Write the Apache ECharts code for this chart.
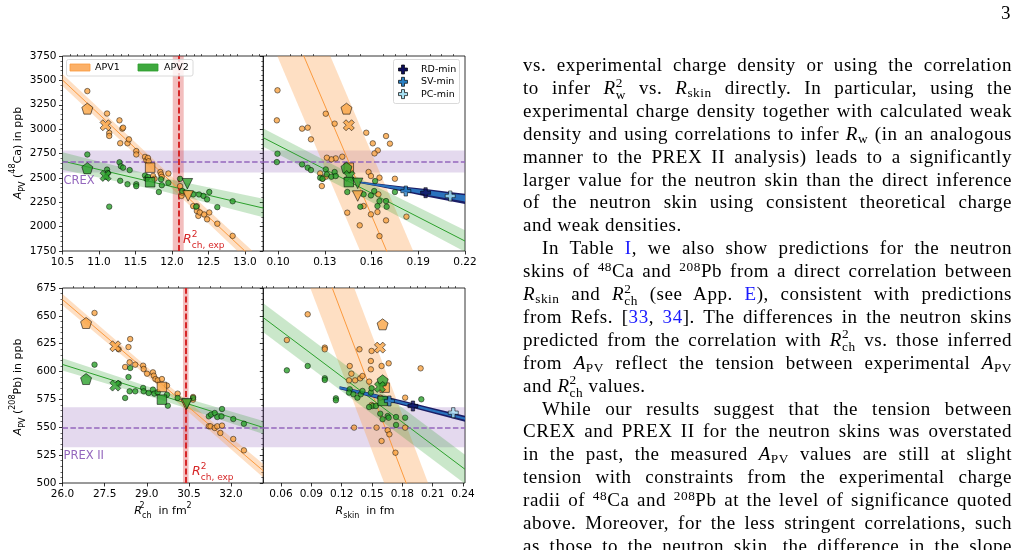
<!DOCTYPE html>
<html>
<head>
<meta charset="utf-8">
<script src="https://cdn.jsdelivr.net/npm/echarts/dist/echarts.min.js"></script>
<style>
body { margin: 0; background: #fff; overflow: hidden; }
#chart { position: absolute; left: 0; top: 0; width: 1019px; height: 550px; }
.l { position: absolute; left: 523px; width: 489px; height: 23px; line-height: 23px;
     font-family: 'Liberation Serif', serif; font-size: 19px; letter-spacing: 0.55px; color: #000;
     text-align: justify; text-align-last: justify; white-space: nowrap; }
.l.e { text-align-last: left; }
.l.ind { text-indent: 19px; }
.l a { color: #1a1aff; text-decoration: none; }
.l sub, .l sup { font-size: 0.7em; line-height: 0; }
.l sub { vertical-align: -0.25em; }
.l sup { vertical-align: 0.45em; }
.ss { display: inline-block; font-size: 0.7em; line-height: 0.95; vertical-align: -0.4em; }
.ss b { display: block; font-weight: normal; }
#page { position: absolute; left: 1001px; top: 2px; font-family: 'Liberation Serif', serif; font-size: 19px; }
</style>
</head>
<body>
<div id="chart"></div>
<div id="page">3</div>
<div id="text"></div>
<script>
// ---------- data ----------
// axes
const caRchRange = [10.5, 13.25];
const caSkinRange = [0.0905, 0.22];
const pbRchRange = [26.0, 33.15];
const pbSkinRange = [0.0425, 0.242];
const caRchTicks = [10.5, 11.0, 11.5, 12.0, 12.5, 13.0];
const caSkinTicks = [0.10, 0.13, 0.16, 0.19, 0.22];
const pbRchTicks = [26.0, 27.5, 29.0, 30.5, 32.0];
const pbSkinTicks = [0.06, 0.09, 0.12, 0.15, 0.18, 0.21, 0.24];
const caApvAxis = [1750, 3750, 250];
const pbApvAxis = [500, 675, 25];

// experiment
const crexBand = [2555, 2781];
const crexValue = 2668;
const prexBand = [532, 568];
const prexValue = 550;
const caRch2Band = [12.01, 12.16];
const caRch2Exp = 12.085;
const pbRch2Band = [30.29, 30.49];
const pbRch2Exp = 30.39;

// 48Ca vs R_ch^2
const caRchApv1 = [[10.84,3390],[11.11,3160],[11.14,2960],[11.14,2930],[11.28,3090],[11.32,3005],[11.33,3015],[11.29,2855],[11.39,2855],[11.41,2895],[11.51,2775],[11.51,2740],[11.63,2715],[11.65,2680],[11.67,2705],[11.68,2670],[11.84,2560],[11.85,2535],[11.95,2545],[11.74,2520],[11.76,2490],[11.86,2510],[12.11,2415],[12.13,2315],[12.14,2350],[12.29,2210],[12.34,2210],[12.34,2160],[12.36,2110],[12.38,2145],[12.44,2125],[12.48,2075],[12.51,2145],[12.62,2030],[12.83,1905]];
const caRchApv2 = [[10.84,2740],[11.11,2585],[11.12,2550],[11.10,2510],[11.14,2205],[11.28,2660],[11.30,2620],[11.33,2605],[11.29,2470],[11.39,2435],[11.42,2580],[11.51,2435],[11.51,2415],[11.63,2525],[11.65,2490],[11.67,2510],[11.85,2485],[11.86,2425],[11.82,2355],[11.95,2450],[12.11,2490],[12.14,2365],[12.29,2330],[12.33,2205],[12.37,2330],[12.43,2315],[12.48,2280],[12.51,2355],[12.62,2200],[12.83,2260]];
const caRchMarkers1 = [[10.84,3210],[11.09,3040],[11.70,2605],[12.22,2315]];
const caRchMarkers2 = [[10.84,2600],[11.09,2520],[11.70,2455],[12.21,2440]];
const caRchLine1 = [[10.5,3504],[13.25,1573]];
const caRchBand1 = [[10.5,3442,3566],[11.9,2461,2581],[13.25,1498,1648]];
const caRchLine2 = [[10.5,2673],[13.25,2190]];
const caRchBand2 = [[10.5,2583,2763],[11.9,2357,2497],[13.25,2095,2285]];

// 48Ca vs R_skin
const caSkinApv1 = [[0.0996,3398],[0.0992,3090],[0.1154,3005],[0.119,3015],[0.1211,2895],[0.1306,3158],[0.1363,3056],[0.1566,2963],[0.1608,2854],[0.164,2782],[0.1619,2751],[0.1693,2929],[0.1718,2851],[0.1412,2717],[0.137,2700],[0.1342,2690],[0.1313,2707],[0.1581,2560],[0.1596,2519],[0.1651,2502],[0.127,2546],[0.1285,2491],[0.1281,2416],[0.1306,2512],[0.175,2491],[0.1444,2143],[0.1524,2013],[0.1549,2211],[0.1596,2126],[0.1638,2150],[0.1693,2064],[0.1651,1903],[0.1824,2102],[0.1644,2331]];
const caSkinApv2 = [[0.0996,2748],[0.0992,2662],[0.1154,2638],[0.119,2604],[0.1211,2580],[0.127,2502],[0.1285,2491],[0.1306,2587],[0.1313,2536],[0.1342,2512],[0.1363,2560],[0.137,2519],[0.1444,2355],[0.1549,2331],[0.1528,2204],[0.1596,2320],[0.1617,2365],[0.1623,2467],[0.1638,2211],[0.1651,2262],[0.1693,2262],[0.1697,2204],[0.175,2355]];
const caSkinMarkers1 = [[0.1439,3210],[0.1454,3040],[0.1454,2604],[0.1511,2314]];
const caSkinMarkers2 = [[0.1439,2604],[0.1458,2519],[0.1454,2457],[0.1511,2444]];
const caSkinLine1 = [[0.095,4558],[0.2,611]];
const caSkinBand1 = [[0.095,3918,5198],[0.2,-29,1251]];
const caSkinLine2 = [[0.0905,2912],[0.22,1852]];
const caSkinBand2 = [[0.0905,2818,3006],[0.155,2294,2474],[0.22,1742,1962]];
const caSkinMinOuter = [[0.152,2448,2462],[0.165,2408,2440],[0.18,2360,2412],[0.195,2310,2385],[0.21,2262,2355],[0.22,2232,2338]];
const caSkinMinInner = [[0.152,2451,2459],[0.165,2415,2434],[0.18,2372,2402],[0.195,2328,2372],[0.21,2285,2340],[0.22,2258,2322]];
const caSkinMinPoints = [[0.1947,2348],[0.182,2365],[0.2105,2314]]; // RD, SV, PC

// 208Pb vs R_ch^2
const pbRchApv1 = [[27.14,652.6],[28.0,620],[28.35,622],[28.41,629.2],[28.39,608.3],[28.23,604.1],[28.59,606.2],[28.87,605.3],[28.89,602.3],[29.01,598.1],[29.22,599.3],[29.25,596.3],[29.31,593.3],[29.39,592.1],[29.54,593.3],[29.72,587.4],[30.10,580.2],[30.65,577.2],[30.65,574.8],[31.21,550.9],[31.27,550.9],[31.42,549.4],[31.51,550.9],[31.68,551.5],[31.62,544.9],[32.08,539.5],[32.46,529.3]];
const pbRchApv2 = [[27.14,606.2],[28.0,589.2],[28.23,576.3],[28.35,595.1],[28.41,603.2],[28.39,582.3],[28.59,582.3],[28.87,585.3],[28.89,582.3],[29.07,580.8],[29.22,583.8],[29.27,580.2],[29.39,581.4],[29.72,579.3],[29.75,569.4],[30.10,576.3],[30.65,576.3],[31.21,559.8],[31.29,561.3],[31.42,562.8],[31.51,559.2],[31.68,566.4],[31.66,559.8],[32.08,557.4],[32.46,553.2]];
const pbRchMarkers1 = [[26.84,643.6],[27.88,622.7],[29.54,586.2],[30.40,570.5]];
const pbRchMarkers2 = [[26.84,593.3],[27.88,587.4],[29.54,574.8],[30.43,571.2]];
const pbRchLine1 = [[26,664.6],[33.15,510.9]];
const pbRchBand1 = [[26,659.6,669.6],[29.5,585.4,593.4],[33.15,505,517]];
const pbRchLine2 = [[26,606.4],[33.15,549.8]];
const pbRchBand2 = [[26,600.9,611.9],[29.5,574.7,582.7],[33.15,544,555.6]];

// 208Pb vs R_skin
const pbSkinApv1 = [[0.0864,651.4],[0.0658,628.3],[0.1033,621.5],[0.1033,620],[0.1376,620],[0.1496,618.5],[0.1665,607.4],[0.1595,605],[0.1489,609.5],[0.1489,602],[0.128,605],[0.1296,598.1],[0.1273,592.1],[0.1333,592.1],[0.1383,593.9],[0.1406,596],[0.1472,591],[0.1981,602.9],[0.1582,576.6],[0.1496,570],[0.1828,576.6],[0.1323,549.7],[0.1545,549.7],[0.1655,547.3],[0.1672,543.7],[0.1828,549.7],[0.1595,537.7],[0.1732,527.2]];
const pbSkinApv2 = [[0.0658,601.1],[0.0864,605],[0.1033,594],[0.1033,592.5],[0.1143,576],[0.1143,574.2],[0.128,584.1],[0.1273,581.1],[0.1316,579.6],[0.1356,576.6],[0.1389,579.6],[0.1406,582.6],[0.1489,581.1],[0.1496,585],[0.1506,569.1],[0.1539,569.1],[0.1582,562.2],[0.1605,557.2],[0.1655,560.1],[0.1665,558.6],[0.1738,559.2],[0.1738,552.1],[0.1828,558.6],[0.1988,575.1],[0.1472,568.2]];
const pbSkinMarkers1 = [[0.1605,642.4],[0.1579,621.5],[0.1625,585.6],null];
const pbSkinMarkers2 = [[0.1605,592.1],[0.1579,586.2],[0.1605,573.6],null];
const pbSkinLine1 = [[0.08,748.5],[0.22,413.3]];
const pbSkinBand1 = [[0.08,696.5,800.5],[0.22,361.3,465.3]];
const pbSkinLine2 = [[0.0425,648.4],[0.242,512.3]];
const pbSkinBand2 = [[0.0425,635.4,661.4],[0.242,499.3,525.3]];
const pbSkinMinOuter = [[0.118,584.2,586.8],[0.15,577,580.6],[0.18,569.8,574],[0.21,562.5,567.3],[0.242,555,560.3]];
const pbSkinMinInner = [[0.118,584.6,586.4],[0.15,577.6,580],[0.18,570.8,573],[0.21,564,566],[0.242,556.8,558.8]];
const pbSkinMinPoints = [[0.1905,569.1],[0.1672,573.6],[0.2304,563.1]]; // RD, SV, PC

const minNames = ['RD-min', 'SV-min', 'PC-min'];

// ---------- styles ----------
const FONT = 'DejaVu Sans';
const C = {
    orange: '#f9a443', orangeLine: '#fb9a3e', orangeBand: 'rgba(252,164,84,0.35)',
    green: '#2ca02c', greenBand: 'rgba(44,160,44,0.25)',
    purple: '#9467bd', purpleBand: 'rgba(148,103,189,0.25)',
    red: '#d62728', redBand: 'rgba(214,39,40,0.3)',
    navy: '#1b1e66', blue: '#2a72bd'
};
const minColors = ['#0e0e5c', '#2a80c4', '#a8e0f2'];
const PENTAGON = 'path://M0,-1L0.951,-0.309L0.588,0.809L-0.588,0.809L-0.951,-0.309Z';
const XMARK = 'path://M1.414,-2.828L2.828,-1.414L1.414,0L2.828,1.414L1.414,2.828L0,1.414L-1.414,2.828L-2.828,1.414L-1.414,0L-2.828,-1.414L-1.414,-2.828L0,-1.414Z';
const PLUS = 'path://M-1,-3L1,-3L1,-1L3,-1L3,1L1,1L1,3L-1,3L-1,1L-3,1L-3,-1L-1,-1Z';
const markerShapes = [
    { symbol: PENTAGON, size: 11, rotate: 0 },
    { symbol: XMARK, size: 11, rotate: 0 },
    { symbol: 'rect', size: 9.5, rotate: 0 },
    { symbol: 'triangle', size: 10.5, rotate: 180 }
];

const grids = [
    { left: 62.5, top: 56, width: 200.8, height: 195 },
    { left: 263.3, top: 56, width: 201.7, height: 195 },
    { left: 62.5, top: 288, width: 200.8, height: 195 },
    { left: 263.3, top: 288, width: 201.7, height: 195 }
].map(g => Object.assign(g, { show: true, borderColor: '#000', borderWidth: 0.8, backgroundColor: 'transparent' }));

function minorTicks(major, ndiv, lo, hi) {
    const step = (major[1] - major[0]) / ndiv;
    const out = [];
    let v = major[0];
    while (v - step >= lo - 1e-9) v -= step;
    for (; v <= hi + 1e-9; v += step) {
        if (!major.some(m => Math.abs(m - v) < step / 10)) out.push(+v.toFixed(6));
    }
    return out;
}

const panels = [
    { range: caRchRange, ticks: caRchTicks, ndiv: 5, digits: 1, y: caApvAxis, yLabels: true,
      pts1: caRchApv1, pts2: caRchApv2, mk1: caRchMarkers1, mk2: caRchMarkers2,
      line1: caRchLine1, band1: caRchBand1, line2: caRchLine2, band2: caRchBand2,
      exp: crexBand, expVal: crexValue, rch: caRch2Band, rchVal: caRch2Exp },
    { range: caSkinRange, ticks: caSkinTicks, ndiv: 4, digits: 2, y: caApvAxis, yLabels: false,
      pts1: caSkinApv1, pts2: caSkinApv2, mk1: caSkinMarkers1, mk2: caSkinMarkers2,
      line1: caSkinLine1, band1: caSkinBand1, line2: caSkinLine2, band2: caSkinBand2,
      exp: crexBand, expVal: crexValue, minOuter: caSkinMinOuter, minInner: caSkinMinInner, minPts: caSkinMinPoints },
    { range: pbRchRange, ticks: pbRchTicks, ndiv: 4, digits: 1, y: pbApvAxis, yLabels: true,
      pts1: pbRchApv1, pts2: pbRchApv2, mk1: pbRchMarkers1, mk2: pbRchMarkers2,
      line1: pbRchLine1, band1: pbRchBand1, line2: pbRchLine2, band2: pbRchBand2,
      exp: prexBand, expVal: prexValue, rch: pbRch2Band, rchVal: pbRch2Exp },
    { range: pbSkinRange, ticks: pbSkinTicks, ndiv: 4, digits: 2, y: pbApvAxis, yLabels: false,
      pts1: pbSkinApv1, pts2: pbSkinApv2, mk1: pbSkinMarkers1, mk2: pbSkinMarkers2,
      line1: pbSkinLine1, band1: pbSkinBand1, line2: pbSkinLine2, band2: pbSkinBand2,
      exp: prexBand, expVal: prexValue, minOuter: pbSkinMinOuter, minInner: pbSkinMinInner, minPts: pbSkinMinPoints }
];

const xAxes = [];
const yAxes = [];
const series = [];

function bandSeries(rows, fill, xi, yi, z) {
    const mid = rows[Math.floor(rows.length / 2)];
    return {
        type: 'custom', xAxisIndex: xi, yAxisIndex: yi, z: z, silent: true, clip: true,
        data: [[mid[0], (mid[1] + mid[2]) / 2]],
        renderItem: function (params, api) {
            const pts = rows.map(r => api.coord([r[0], r[2]]))
                .concat(rows.slice().reverse().map(r => api.coord([r[0], r[1]])));
            return { type: 'polygon', shape: { points: pts }, style: { fill: fill } };
        }
    };
}

panels.forEach((p, i) => {
    const xi = xAxes.length;
    const base = { type: 'value', gridIndex: i, min: p.range[0], max: p.range[1],
                   splitLine: { show: false }, axisLine: { show: false } };
    xAxes.push(Object.assign({}, base, {
        axisTick: { show: true, customValues: p.ticks, length: 3.5, lineStyle: { color: '#000', width: 0.8 } },
        axisLabel: { customValues: p.ticks, formatter: v => (+v).toFixed(p.digits),
                     color: '#000', fontFamily: FONT, fontSize: 10.5, margin: 6 }
    }));
    xAxes.push(Object.assign({}, base, {
        axisTick: { show: true, customValues: minorTicks(p.ticks, p.ndiv, p.range[0], p.range[1]),
                    length: 2, lineStyle: { color: '#000', width: 0.6 } },
        axisLabel: { show: false }
    }));
    yAxes.push({
        type: 'value', gridIndex: i, min: p.y[0], max: p.y[1], interval: p.y[2],
        splitLine: { show: false }, axisLine: { show: false },
        axisTick: { show: true, length: 3.5, lineStyle: { color: '#000', width: 0.8 } },
        minorTick: { show: true, splitNumber: 5, length: 2, lineStyle: { color: '#000', width: 0.6 } },
        minorSplitLine: { show: false },
        axisLabel: { show: p.yLabels, formatter: v => String(Math.round(v)),
                     color: '#000', fontFamily: FONT, fontSize: 10.5, margin: 6 }
    });
    const yi = i;
    const ax = { xAxisIndex: xi, yAxisIndex: yi };

    // experimental bands
    const areas = [[{ yAxis: p.exp[0] }, { yAxis: p.exp[1] }]];
    series.push(Object.assign({ type: 'line', data: [], z: 1, silent: true,
        markArea: { silent: true, itemStyle: { color: C.purpleBand }, data: areas } }, ax));
    if (p.rch) {
        series.push(Object.assign({ type: 'line', data: [], z: 1, silent: true,
            markArea: { silent: true, itemStyle: { color: C.redBand },
                        data: [[{ xAxis: p.rch[0] }, { xAxis: p.rch[1] }]] } }, ax));
    }

    // correlation bands and fits
    series.push(bandSeries(p.band1, C.orangeBand, xi, yi, 2));
    series.push(bandSeries(p.band2, C.greenBand, xi, yi, 2));
    series.push(Object.assign({ type: 'line', data: p.line1, showSymbol: false, silent: true, z: 3,
        lineStyle: { color: C.orangeLine, width: 1 } }, ax));
    series.push(Object.assign({ type: 'line', data: p.line2, showSymbol: false, silent: true, z: 3,
        lineStyle: { color: C.green, width: 1 } }, ax));

    // experimental central values
    series.push(Object.assign({ type: 'line', data: [], z: 4, silent: true,
        markLine: { silent: true, symbol: 'none', label: { show: false },
                    lineStyle: { color: C.purple, type: [5.5, 2.4], width: 1.5 },
                    data: [{ yAxis: p.expVal }] } }, ax));
    if (p.rch) {
        series.push(Object.assign({ type: 'line', data: [], z: 4, silent: true,
            markLine: { silent: true, symbol: 'none', label: { show: false },
                        lineStyle: { color: C.red, type: [6, 2.6], width: 2 },
                        data: [{ xAxis: p.rchVal }] } }, ax));
    }

    // minimal-model bands
    if (p.minOuter) {
        series.push(bandSeries(p.minOuter, C.navy, xi, yi, 4));
        series.push(bandSeries(p.minInner, C.blue, xi, yi, 4));
    }

    // model points
    series.push(Object.assign({ type: 'scatter', data: p.pts1, symbolSize: 5.5, z: 5,
        itemStyle: { color: C.orange, borderColor: '#000', borderWidth: 0.6 } }, ax));
    series.push(Object.assign({ type: 'scatter', data: p.pts2, symbolSize: 5.5, z: 5,
        itemStyle: { color: C.green, borderColor: '#000', borderWidth: 0.6 } }, ax));
    [[p.mk1, C.orange, 6], [p.mk2, C.green, 7]].forEach(([mk, col, z]) => {
        mk.forEach((pt, k) => {
            if (!pt) return;
            const s = markerShapes[k];
            series.push(Object.assign({ type: 'scatter', data: [pt], symbol: s.symbol, symbolSize: s.size,
                symbolRotate: s.rotate, z: z,
                itemStyle: { color: col, borderColor: '#000', borderWidth: 0.7 } }, ax));
        });
    });
    if (p.minPts) {
        p.minPts.forEach((pt, k) => {
            series.push(Object.assign({ type: 'scatter', data: [pt], symbol: PLUS, symbolSize: 10, z: 8,
                itemStyle: { color: minColors[k], borderColor: '#000', borderWidth: 0.7 } }, ax));
        });
    }
});

// ---------- labels, legends ----------
const rich = {
    i: { fontFamily: FONT, fontStyle: 'italic', fontSize: 11, lineHeight: 18 },
    n: { fontFamily: FONT, fontSize: 11, lineHeight: 18 },
    sub: { fontFamily: FONT, fontSize: 8, lineHeight: 10, verticalAlign: 'bottom' },
    sup: { fontFamily: FONT, fontSize: 8, lineHeight: 14, verticalAlign: 'top' },
    supz: { fontFamily: FONT, fontSize: 8, lineHeight: 14, verticalAlign: 'top', width: 0.1 },
    ri: { fontFamily: FONT, fontStyle: 'italic', fontSize: 12.5, lineHeight: 20 },
    rsub: { fontFamily: FONT, fontSize: 9, lineHeight: 11, verticalAlign: 'bottom' },
    rsupz: { fontFamily: FONT, fontSize: 9, lineHeight: 14, verticalAlign: 'top', width: 0.1 }
};
function richText(x, y, text, opts) {
    return Object.assign({
        type: 'text', x: x, y: y, z: 50, silent: true,
        style: Object.assign({ text: text, rich: rich, fill: '#000', align: 'center', verticalAlign: 'middle',
                               textAlign: 'center', textVerticalAlign: 'middle' }, (opts && opts.style) || {})
    }, (opts && opts.el) || {});
}
function plainText(x, y, text, size, color, align) {
    return { type: 'text', x: x, y: y, z: 60, silent: true,
             style: { text: text, fill: color, fontFamily: FONT, fontSize: size,
                      align: align || 'left', textAlign: align || 'left',
                      verticalAlign: 'middle', textVerticalAlign: 'middle' } };
}
function plusIcon(cx, cy, r, fill) {
    const a = r / 3;
    const pts = [[-a, -r], [a, -r], [a, -a], [r, -a], [r, a], [a, a], [a, r], [-a, r], [-a, a], [-r, a], [-r, -a], [-a, -a]]
        .map(q => [cx + q[0], cy + q[1]]);
    return { type: 'polygon', z: 61, silent: true, shape: { points: pts },
             style: { fill: fill, stroke: '#000', lineWidth: 0.7 } };
}

const graphics = [
    richText(18, 153, '{i|A}{sub|PV}{n| (}{sup|48}{n|Ca) in ppb}', { el: { rotation: Math.PI / 2 } }),
    richText(18, 387, '{i|A}{sub|PV}{n| (}{sup|208}{n|Pb) in ppb}', { el: { rotation: Math.PI / 2 } }),
    richText(163, 511, '{i|R}{supz|2}{sub|ch}{n|  in fm}{sup|2}'),
    richText(365, 511, '{i|R}{sub|skin}{n|  in fm}'),
    richText(183, 240, '{ri|R}{rsupz|2}{rsub|ch, exp}', { style: { fill: C.red, align: 'left', textAlign: 'left' } }),
    richText(192, 472, '{ri|R}{rsupz|2}{rsub|ch, exp}', { style: { fill: C.red, align: 'left', textAlign: 'left' } }),
    plainText(63.5, 181, 'CREX', 11.5, C.purple),
    plainText(63.5, 456.5, 'PREX II', 11.5, C.purple),
    // APV legend
    { type: 'rect', z: 58, silent: true, shape: { x: 66.5, y: 59.5, width: 126.5, height: 16.5, r: 2 },
      style: { fill: 'rgba(255,255,255,0.8)', stroke: '#d0d0d0', lineWidth: 0.8 } },
    { type: 'rect', z: 59, silent: true, shape: { x: 70, y: 64, width: 20, height: 7 },
      style: { fill: '#fbb068', stroke: C.orangeLine, lineWidth: 0.8 } },
    plainText(95, 68, 'APV1', 9.5, '#000'),
    { type: 'rect', z: 59, silent: true, shape: { x: 138, y: 64, width: 20, height: 7 },
      style: { fill: '#3ea83e', stroke: C.green, lineWidth: 0.8 } },
    plainText(164, 68, 'APV2', 9.5, '#000'),
    // minimal-model legend
    { type: 'rect', z: 58, silent: true, shape: { x: 393.5, y: 59.5, width: 66, height: 44, r: 2 },
      style: { fill: 'rgba(255,255,255,0.8)', stroke: '#d0d0d0', lineWidth: 0.8 } }
];
minNames.forEach((name, k) => {
    graphics.push(plusIcon(403, 69.5 + k * 12.3, 4.5, minColors[k]));
    graphics.push(plainText(421, 69.5 + k * 12.3, name, 9.5, '#000'));
});

const chart = echarts.init(document.getElementById('chart'), null, { renderer: 'canvas' });
chart.setOption({
    animation: false,
    backgroundColor: '#fff',
    grid: grids,
    xAxis: xAxes,
    yAxis: yAxes,
    series: series,
    graphic: { elements: graphics }
});

// ---------- body text ----------
const R2 = sub => '<i>R</i><span class="ss"><b>2</b><b>' + sub + '</b></span>';
const APV = '<i>A</i><sub>PV</sub>';
const bodyLines = [
    ['vs. experimental charge density or using the correlation', ''],
    ['to infer ' + R2('w') + ' vs. <i>R</i><sub>skin</sub> directly.  In particular, using the', ''],
    ['experimental charge density together with calculated weak', ''],
    ['density and using correlations to infer <i>R</i><sub>w</sub> (in an analogous', ''],
    ['manner to the PREX II analysis) leads to a significantly', ''],
    ['larger value for the neutron skin than the direct inference', ''],
    ['of the neutron skin using consistent theoretical charge', ''],
    ['and weak densities.', 'e'],
    ['In Table <a>I</a>, we also show predictions for the neutron', 'ind'],
    ['skins of <sup>48</sup>Ca and <sup>208</sup>Pb from a direct correlation between', ''],
    ['<i>R</i><sub>skin</sub> and ' + R2('ch') + ' (see App. <a>E</a>), consistent with predictions', ''],
    ['from Refs. [<a>33</a>, <a>34</a>]. The differences in the neutron skins', ''],
    ['predicted from the correlation with ' + R2('ch') + ' vs. those inferred', ''],
    ['from ' + APV + ' reflect the tension between experimental ' + APV, ''],
    ['and ' + R2('ch') + ' values.', 'e'],
    ['While our results suggest that the tension between', 'ind'],
    ['CREX and PREX II for the neutron skins was overstated', ''],
    ['in the past, the measured ' + APV + ' values are still at slight', ''],
    ['tension with constraints from the experimental charge', ''],
    ['radii of <sup>48</sup>Ca and <sup>208</sup>Pb at the level of significance quoted', ''],
    ['above. Moreover, for the less stringent correlations, such', ''],
    ['as those to the neutron skin, the difference in the slope', '']
];
const textBox = document.getElementById('text');
bodyLines.forEach((ln, k) => {
    const d = document.createElement('div');
    d.className = 'l ' + ln[1];
    d.style.top = (53 + k * 22.9) + 'px';
    d.innerHTML = ln[0];
    textBox.appendChild(d);
});
</script>
</body>
</html>
